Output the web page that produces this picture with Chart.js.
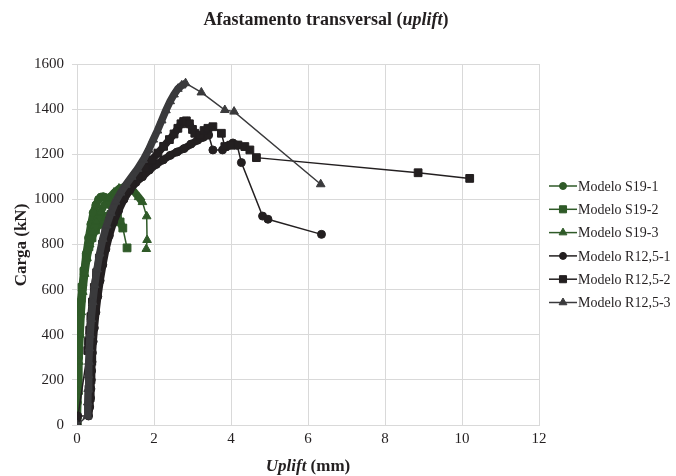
<!DOCTYPE html>
<html><head><meta charset="utf-8">
<script src="https://cdn.jsdelivr.net/npm/chart.js@4.4.0/dist/chart.umd.min.js"></script>
<style>html,body{margin:0;padding:0;background:#fff;}#wrap{width:676px;height:476px;position:relative;}</style>
</head><body><div id="wrap"><canvas id="c" width="676" height="476"></canvas></div>
<script>
// ---- Data (uplift in mm, load in kN) ----
const seriesNames = ['Modelo S19-1','Modelo S19-2','Modelo S19-3','Modelo R12,5-1','Modelo R12,5-2','Modelo R12,5-3'];
const xTicks = [0,2,4,6,8,10,12];
const yTicks = [0,200,400,600,800,1000,1200,1400,1600];

const upliftS19_1 = [0,0.01,0.02,0.04,0.06,0.08,0.11,0.15,0.19,0.24,0.3,0.36,0.42,0.49,0.56,0.62,0.68,0.74,0.8,0.86];
const loadS19_1   = [0,100,200,300,400,480,550,620,690,760,830,890,940,975,1000,1010,1012,1008,995,975];

const upliftS19_2 = [0,0.01,0.03,0.06,0.09,0.13,0.18,0.24,0.31,0.39,0.48,0.58,0.68,0.78,0.88,0.97,1.05,1.12,1.19,1.3];
const loadS19_2   = [0,325,400,470,540,610,680,740,790,830,865,890,910,925,933,932,920,900,873,785];

const upliftS19_3 = [0,0.03,0.05,0.08,0.11,0.15,0.2,0.26,0.33,0.41,0.5,0.6,0.71,0.83,0.96,1.09,1.22,1.35,1.48,1.6,1.7,1.81,1.82,1.8];
const loadS19_3   = [40,150,280,400,500,590,670,740,800,855,900,940,975,1005,1030,1048,1055,1050,1035,1010,988,925,820,780];

const upliftR125_1 = [0.02,0.3,0.33,0.35,0.36,0.37,0.38,0.39,0.4,0.42,0.45,0.49,0.54,0.6,0.67,0.75,0.84,0.95,1.08,1.22,1.37,1.53,1.7,1.88,2.06,2.24,2.42,2.6,2.78,2.96,3.13,3.28,3.42,3.53,3.78,3.92,4.05,4.16,4.27,4.82,4.96,6.35];
const loadR125_1   = [40,40,80,120,160,200,240,280,320,370,430,500,570,640,710,780,840,900,950,1000,1040,1075,1100,1130,1155,1175,1195,1210,1225,1245,1262,1275,1285,1219,1219,1238,1250,1240,1163,926,912,845];

const upliftR125_2 = [0,0.28,0.3,0.33,0.36,0.4,0.45,0.51,0.58,0.66,0.75,0.86,0.98,1.12,1.27,1.43,1.6,1.77,1.94,2.1,2.25,2.4,2.52,2.62,2.7,2.77,2.84,2.92,3.0,3.06,3.19,3.3,3.4,3.53,3.75,3.84,4.0,4.18,4.36,4.49,4.66,8.86,10.2];
const loadR125_2   = [10,330,370,420,480,545,610,675,740,800,855,905,950,995,1035,1070,1105,1140,1175,1205,1235,1265,1290,1315,1335,1345,1348,1335,1310,1293,1285,1305,1315,1322,1293,1234,1240,1241,1234,1219,1185,1118,1093];

const upliftR125_3 = [0,0.27,0.28,0.29,0.3,0.31,0.32,0.34,0.37,0.41,0.46,0.52,0.59,0.67,0.77,0.88,1.0,1.13,1.27,1.42,1.57,1.72,1.86,1.98,2.09,2.2,2.31,2.42,2.52,2.62,2.72,2.82,3.23,3.84,4.08,6.33];
const loadR125_3   = [0,40,100,160,220,280,340,400,470,545,620,690,760,825,885,940,990,1030,1065,1100,1135,1175,1220,1265,1305,1350,1395,1435,1465,1490,1505,1515,1474,1396,1389,1067];

// ---- Styles ----
const GREEN = '#2f5a28', DARK = '#231f20', DARK3 = '#3a3a3c';
const styles = [
  {color: GREEN, shape: 'circle',   r: 4,   denseStart: 0, denseEnd: 19},
  {color: GREEN, shape: 'rect',     r: 5.5, denseStart: 1, denseEnd: 18},
  {color: GREEN, shape: 'triangle', r: 5,   denseStart: 0, denseEnd: 20},
  {color: DARK,  shape: 'circle',   r: 4,   denseStart: 1, denseEnd: 32},
  {color: DARK,  shape: 'rect',     r: 5.5, denseStart: 1, denseEnd: 29},
  {color: DARK3, shape: 'triangle', r: 5,   denseStart: 1, denseEnd: 31}
];
const xs = [upliftS19_1, upliftS19_2, upliftS19_3, upliftR125_1, upliftR125_2, upliftR125_3];
const ys = [loadS19_1, loadS19_2, loadS19_3, loadR125_1, loadR125_2, loadR125_3];

const datasets = seriesNames.map((name, k) => {
  const st = styles[k];
  return {
    label: name,
    data: xs[k].map((x, i) => ({x: x, y: ys[k][i]})),
    showLine: true,
    borderColor: st.color,
    backgroundColor: st.color,
    pointBackgroundColor: st.color,
    pointBorderColor: st.color,
    pointBorderWidth: 1,
    pointStyle: st.shape,
    pointRadius: st.r,
    pointHoverRadius: st.r,
    borderWidth: 1.5,
    tension: 0,
    order: 6 - k,
    segment: {
      borderWidth: ctx => (ctx.p0DataIndex >= st.denseStart && ctx.p1DataIndex <= st.denseEnd) ? 7.5 : 1.5
    }
  };
});

const SERIF = '"Liberation Serif", "Times New Roman", serif';
function drawRich(ctx, parts, cx, y) {
  let total = 0;
  parts.forEach(p => { ctx.font = p.font; p.w = ctx.measureText(p.text).width; total += p.w; });
  let x = cx - total / 2;
  ctx.textAlign = 'left';
  parts.forEach(p => { ctx.font = p.font; ctx.fillText(p.text, x, y); x += p.w; });
}

const decor = {
  id: 'decor',
  afterDraw(chart) {
    const ctx = chart.ctx;
    ctx.save();
    ctx.fillStyle = '#231f20';
    ctx.textBaseline = 'alphabetic';
    // Title
    drawRich(ctx, [
      {text: 'Afastamento transversal (', font: 'bold 18px ' + SERIF},
      {text: 'uplift', font: 'italic bold 18px ' + SERIF},
      {text: ')', font: 'bold 18px ' + SERIF}
    ], 326, 25);
    // X axis title
    drawRich(ctx, [
      {text: 'Uplift', font: 'italic bold 17px ' + SERIF},
      {text: ' (mm)', font: 'bold 17px ' + SERIF}
    ], 308, 471);
    // Y axis title
    ctx.save();
    ctx.translate(26, 245);
    ctx.rotate(-Math.PI / 2);
    ctx.font = 'bold 17px ' + SERIF;
    ctx.textAlign = 'center';
    ctx.fillText('Carga (kN)', 0, 0);
    ctx.restore();
    // Legend
    const lx0 = 549, lx1 = 577, mx = 563;
    seriesNames.forEach((name, k) => {
      const st = styles[k];
      const y = 186 + 23.3 * k;
      ctx.strokeStyle = st.color;
      ctx.fillStyle = st.color;
      ctx.lineWidth = 1.5;
      ctx.beginPath(); ctx.moveTo(lx0, y); ctx.lineTo(lx1, y); ctx.stroke();
      ctx.lineWidth = 1;
      Chart.helpers.drawPoint(ctx, {pointStyle: st.shape, radius: st.r - 0.5, rotation: 0, borderWidth: 1}, mx, y);
      ctx.fillStyle = '#231f20';
      ctx.font = '14px ' + SERIF;
      ctx.textAlign = 'left';
      ctx.textBaseline = 'middle';
      ctx.fillText(name, 578, y + 1);
    });
    ctx.restore();
  }
};

new Chart(document.getElementById('c'), {
  type: 'scatter',
  data: {datasets: datasets},
  options: {
    responsive: false,
    animation: false,
    devicePixelRatio: 1,
    layout: {padding: {top: 64, right: 137, left: 0, bottom: 0}},
    plugins: {legend: {display: false}, tooltip: {enabled: false}, title: {display: false}},
    scales: {
      x: {
        type: 'linear', min: 0, max: 12,
        afterBuildTicks: s => { s.ticks = xTicks.map(v => ({value: v})); },
        afterFit: s => { s.height = 51; },
        grid: {color: '#d9d9d9', lineWidth: 1, drawTicks: false},
        border: {color: '#d9d9d9'},
        ticks: {padding: 5, color: '#231f20', font: {family: SERIF, size: 15}, maxRotation: 0,
                callback: v => String(v)}
      },
      y: {
        type: 'linear', min: 0, max: 1600,
        afterBuildTicks: s => { s.ticks = yTicks.map(v => ({value: v})); },
        afterFit: s => { s.width = 77; },
        grid: {color: '#d9d9d9', lineWidth: 1, drawTicks: true, tickLength: 5},
        border: {color: '#d9d9d9'},
        ticks: {padding: 8, color: '#231f20', font: {family: SERIF, size: 15},
                callback: v => String(v)}
      }
    }
  },
  plugins: [decor]
});
</script>
</body></html>
